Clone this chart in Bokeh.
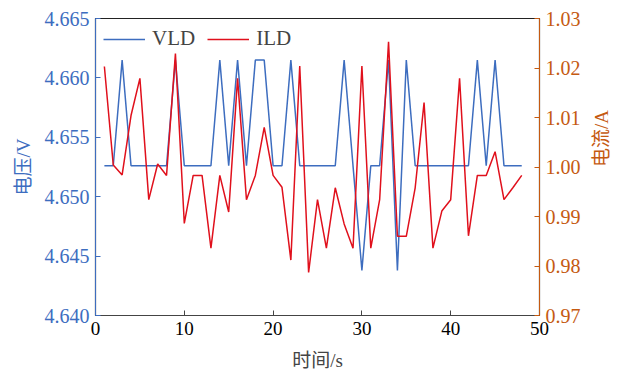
import math
from bokeh.plotting import figure
from bokeh.models import Range1d, LinearAxis, FixedTicker, NumeralTickFormatter, Legend, LegendItem
from bokeh.embed import file_html
from bokeh.resources import INLINE

time_s = list(range(1, 49))
H, M, L = 4.6615, 4.6526, 4.6438
vld = [M, M, H, M, M, M, M, M, H, M,
       M, M, M, H, M, H, M, H, H, M,
       M, H, M, M, M, M, M, H, M, L,
       M, M, H, L, H, M, M, M, M, M,
       M, M, H, M, H, M, M, M]
ild = [1.0203, 1.0004, 0.9984, 1.0104, 1.0179, 0.9934, 1.0006, 0.9983, 1.0229, 0.9886,
       0.9983, 0.9983, 0.9836, 0.9983, 0.9909, 1.0179, 0.9934, 0.9983, 1.0080, 0.9983,
       0.9959, 0.9812, 1.0204, 0.9787, 0.9934, 0.9836, 0.9958, 0.9885, 0.9836, 1.0204,
       0.9836, 0.9934, 1.0253, 0.9860, 0.9860, 0.9958, 1.0130, 0.9836, 0.9911, 0.9934,
       1.0179, 0.9861, 0.9983, 0.9983, 1.0031, 0.9934, 0.9958, 0.9983]
x_ticks = [0, 10, 20, 30, 40, 50]
v_ticks = [4.640, 4.645, 4.650, 4.655, 4.660, 4.665]
i_ticks = [0.97, 0.98, 0.99, 1.00, 1.01, 1.02, 1.03]

BLUE = "#3D6DBF"
RED = "#E0101C"
ORANGE = "#C55A11"
SERIF = "Liberation Serif, Noto Sans CJK SC"

p = figure(width=625, height=377, output_backend="svg", toolbar_location=None,
           x_range=Range1d(0, 50), y_range=Range1d(4.640, 4.665),
           min_border_left=95, min_border_right=82, min_border_top=18, min_border_bottom=62)
p.xgrid.visible = False
p.ygrid.visible = False
p.outline_line_color = "#222222"
p.outline_line_width = 1.2

p.extra_y_ranges = {"i": Range1d(0.97, 1.03)}

r1 = p.line(time_s, vld, line_color=BLUE, line_width=1.5)
r2 = p.line(time_s, ild, line_color=RED, line_width=1.5, y_range_name="i")

# x axis
xa = p.xaxis[0]
xa.ticker = FixedTicker(ticks=x_ticks)
xa.axis_label = "时间/s"
xa.axis_label_text_font = SERIF
xa.axis_label_text_font_style = "normal"
xa.axis_label_text_font_size = "19px"
xa.axis_label_standoff = 12
xa.major_label_text_font = SERIF
xa.major_label_text_font_size = "19px"
xa.major_label_text_color = "black"
xa.axis_line_color = "#444444"
xa.major_tick_line_color = "#444444"
xa.major_tick_in = 5
xa.major_tick_out = 0
xa.minor_tick_line_color = None
xa.major_label_standoff = 6

# left axis
ya = p.yaxis[0]
ya.ticker = FixedTicker(ticks=v_ticks)
ya.formatter = NumeralTickFormatter(format="0.000")
ya.axis_label = "电压/V"
ya.axis_label_text_font = SERIF
ya.axis_label_text_font_style = "normal"
ya.axis_label_text_font_size = "19px"
ya.axis_label_text_color = BLUE
ya.major_label_text_font = SERIF
ya.major_label_text_font_size = "20px"
ya.major_label_text_color = BLUE
ya.axis_line_color = BLUE
ya.major_tick_line_color = BLUE
ya.major_tick_in = 5
ya.major_tick_out = 0
ya.minor_tick_line_color = None
ya.major_label_standoff = 6
ya.axis_label_standoff = 8

# right axis
ra = LinearAxis(y_range_name="i", ticker=FixedTicker(ticks=i_ticks),
                formatter=NumeralTickFormatter(format="0.00"))
ra.axis_label = "电流/A"
ra.axis_label_orientation = math.pi / 2
ra.axis_label_text_font = SERIF
ra.axis_label_text_font_style = "normal"
ra.axis_label_text_font_size = "19px"
ra.axis_label_text_color = ORANGE
ra.major_label_text_font = SERIF
ra.major_label_text_font_size = "20px"
ra.major_label_text_color = ORANGE
ra.axis_line_color = ORANGE
ra.major_tick_line_color = ORANGE
ra.major_tick_in = 5
ra.major_tick_out = 0
ra.minor_tick_line_color = None
ra.major_label_standoff = 6
ra.axis_label_standoff = 18
p.add_layout(ra, "right")

legend = Legend(items=[LegendItem(label="VLD", renderers=[r1]),
                       LegendItem(label="ILD", renderers=[r2])],
                location="top_left", orientation="horizontal")
legend.background_fill_alpha = 0
legend.border_line_color = None
legend.label_text_font = SERIF
legend.label_text_font_size = "21px"
legend.glyph_width = 42
legend.label_standoff = 7
legend.spacing = 12
legend.margin = 8
legend.padding = 6
p.add_layout(legend)

open("out.html", "w").write(file_html(p, INLINE))
